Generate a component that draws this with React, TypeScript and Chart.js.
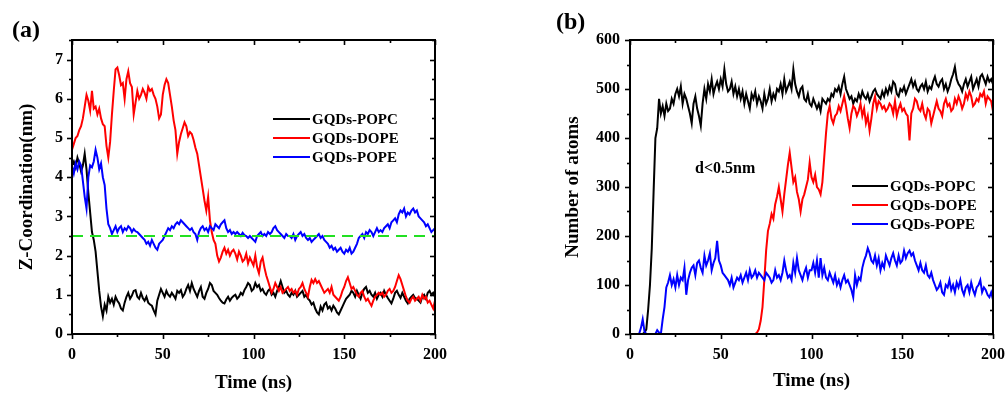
import React, { useEffect, useRef } from 'react';
import { Chart, registerables } from 'chart.js';

Chart.register(...registerables);

// ---------- DATA ----------
// sampling grid (ns), one sample per ns
const TIME_NS = Array.from({ length: 201 }, (_, i) => i);

// Panel (a): Z-Coordination (nm)
const POPC_Z = [
  4.3, 4.4, 4.25, 4.5, 4.35, 4.15, 4.3, 4.6, 4.2, 3.6,
  3.1, 2.6, 2.4, 2.1, 1.6, 1.1, 0.7, 0.45, 0.75, 0.6,
  0.95, 0.8, 0.9, 0.75, 0.95, 0.85, 0.78, 0.65, 0.6, 0.8,
  0.95, 1.05, 0.9, 0.98, 1.1, 1.12, 0.95, 0.9, 1.05, 0.92,
  0.85, 0.95, 0.8, 0.75, 0.72, 0.6, 0.5, 0.85, 1.0, 1.15,
  1.05, 0.95, 1.1, 1.0, 0.95, 1.05, 0.98, 0.9, 1.1, 1.05,
  1.12, 0.95, 1.02, 1.15, 1.25, 1.1, 1.3, 1.15, 1.05, 0.95,
  1.1, 1.2, 0.95, 0.9, 1.05, 1.15, 1.3, 1.25, 1.1, 1.05,
  1.0, 0.92, 0.85, 0.8, 0.78, 0.88, 0.95, 0.85, 0.92, 0.97,
  1.0, 0.9, 0.95, 1.05, 1.0, 1.12, 1.2, 1.3, 1.25, 1.1,
  1.15, 1.3, 1.2, 1.25, 1.1, 1.15, 1.05, 1.0, 1.1, 1.15,
  1.0, 1.05, 0.95, 1.1, 1.2, 1.35, 1.2, 1.05, 1.1, 1.0,
  0.95, 1.05, 1.0, 1.1, 0.95, 1.0, 1.05, 1.1, 0.95, 1.0,
  0.9, 0.85, 0.75, 0.8, 0.65, 0.55, 0.5, 0.7, 0.6, 0.75,
  0.8, 0.65, 0.7, 0.6, 0.72, 0.65, 0.55, 0.5, 0.6, 0.7,
  0.8, 0.9, 0.95, 1.0, 1.1, 1.05, 0.95, 1.1, 1.0, 0.9,
  1.05, 1.15, 1.2, 1.05, 1.1, 1.0, 0.95, 1.05, 0.9, 1.0,
  1.05, 0.95, 1.1, 1.0, 0.92, 0.85, 0.78, 0.9, 1.05, 1.1,
  1.0, 0.92, 1.05, 0.95, 0.85, 0.78, 0.9, 0.95, 1.0, 0.92,
  0.9, 0.85, 0.8, 0.95, 1.0, 0.9, 1.05, 1.1, 1.0, 1.05,
  0.95,
];

const DOPE_Z = [
  4.7, 4.85, 5.0, 5.05, 5.2, 5.3, 5.5, 5.8, 6.1, 5.95,
  5.7, 6.2, 5.75, 5.8, 5.6, 5.75, 5.5, 5.35, 5.3, 4.8,
  4.5, 4.9, 5.6, 6.2, 6.75, 6.8, 6.6, 6.35, 6.4, 6.0,
  6.5, 6.7, 6.4, 6.3, 5.6, 5.9, 6.2, 6.0, 6.1, 6.25,
  6.15, 6.0, 6.3, 6.2, 6.25, 6.1, 6.0, 5.8, 5.5, 5.6,
  6.1, 6.35, 6.5, 6.4, 6.1, 5.8, 5.45, 5.2, 4.6, 4.9,
  5.1, 5.25, 5.4, 5.3, 5.05, 5.15, 5.1, 4.95, 4.75, 4.6,
  4.3, 4.0, 3.7, 3.4, 3.15, 3.5, 2.9, 2.6, 2.4, 2.3,
  2.0, 1.85, 1.95, 2.1, 2.2, 2.05, 2.15, 2.0, 2.1, 2.15,
  2.05, 1.9, 2.1, 2.0, 1.85, 1.9, 2.05, 1.8, 1.95, 1.85,
  1.75, 2.0, 1.7, 1.55, 1.85, 1.95, 1.7, 1.5, 1.35, 1.2,
  1.05, 1.15, 1.3, 1.2, 1.1, 1.2, 1.05, 1.1, 1.15, 1.2,
  1.1, 1.15, 1.05, 1.1, 1.0, 1.15, 1.2, 1.3, 1.15, 1.05,
  0.95, 1.2, 1.38, 1.3, 1.4, 1.3, 1.35, 1.25, 1.15, 1.05,
  1.1, 1.15, 1.05, 1.2, 1.0, 0.95, 0.9, 0.85, 0.95, 1.1,
  1.2, 1.35, 1.45, 1.3, 1.15, 1.2, 1.1, 1.0, 0.95, 1.05,
  1.1, 0.95, 0.85, 0.9, 0.8, 0.72, 0.85, 0.95, 1.0, 1.05,
  1.0, 1.05, 0.95, 1.0, 1.1, 1.15, 1.05, 1.1, 1.2, 1.35,
  1.5, 1.4, 1.25, 1.1, 0.95, 0.85, 0.8, 0.9, 0.95, 0.85,
  0.9, 0.95, 0.85, 1.0, 0.9, 0.95, 0.8, 0.85, 0.75, 0.65,
  0.85,
];

const POPE_Z = [
  4.3, 4.1, 4.35, 4.2, 4.4, 4.3, 3.9, 3.5, 3.2, 4.0,
  4.3, 4.25, 4.4, 4.7, 4.5, 4.2, 4.35, 4.0, 3.8, 3.2,
  2.8, 2.7, 2.55, 2.65, 2.75, 2.6, 2.7, 2.75, 2.6, 2.7,
  2.65, 2.75, 2.7, 2.6, 2.68, 2.62, 2.6, 2.55, 2.5, 2.45,
  2.4, 2.3, 2.35, 2.25, 2.4, 2.3, 2.2, 2.15, 2.3, 2.35,
  2.4, 2.5, 2.6, 2.7, 2.65, 2.75, 2.7, 2.8, 2.85, 2.8,
  2.9, 2.85, 2.8, 2.75, 2.7, 2.65, 2.7, 2.6, 2.55, 2.4,
  2.6, 2.7, 2.75, 2.65, 2.7, 2.6, 2.75, 2.7, 2.65, 2.8,
  2.75, 2.7, 2.8, 2.85, 2.9, 2.7, 2.6, 2.65, 2.55, 2.6,
  2.55, 2.6, 2.55, 2.5, 2.58, 2.52, 2.5, 2.45, 2.5, 2.45,
  2.4, 2.35, 2.5, 2.55, 2.6, 2.5, 2.55, 2.5, 2.6, 2.55,
  2.6, 2.7, 2.75, 2.65, 2.6, 2.55, 2.5, 2.45, 2.55, 2.5,
  2.5, 2.45, 2.55, 2.4, 2.5, 2.55, 2.6, 2.5, 2.55, 2.45,
  2.4, 2.45, 2.35, 2.4, 2.45, 2.5, 2.55, 2.45, 2.5, 2.4,
  2.35, 2.3, 2.2, 2.25, 2.15, 2.2, 2.1, 2.15, 2.2, 2.1,
  2.05, 2.15, 2.1, 2.2, 2.05, 2.1, 2.2, 2.3, 2.45, 2.5,
  2.55, 2.45, 2.6, 2.55, 2.65, 2.6, 2.5, 2.6, 2.7, 2.6,
  2.65, 2.6, 2.7, 2.75, 2.8, 2.7, 2.85, 2.9, 2.95, 2.85,
  3.05, 3.15, 3.1, 3.2, 3.0, 3.1, 3.05, 3.15, 3.2, 3.1,
  3.15, 3.0, 2.95, 2.9, 2.85, 2.75, 2.8, 2.7, 2.6, 2.65,
  2.7,
];

const Z_REFERENCE = 2.5;

// Panel (b): number of atoms within d < 0.5 nm
const POPC_ATOMS = [
  0, 0, 0, 0, 0, 0, 0, 0, 3, 10,
  50, 100, 175, 290, 400, 420, 480, 450, 465, 445,
  470, 455, 460, 480, 470, 490, 500, 485, 505, 470,
  490, 480, 465, 450, 430, 470, 485, 460, 445, 425,
  470, 500, 480, 510, 495, 520, 490, 505, 515, 500,
  520, 505, 540, 510, 495, 500, 515, 490, 505, 485,
  500, 480, 495, 470, 490, 475, 460, 490, 480, 495,
  470, 485, 475, 460, 490, 470, 480, 500, 475, 490,
  480, 500, 495, 510, 490, 520, 495, 505, 515, 500,
  540, 510, 495, 485, 500, 505, 480, 475, 490, 470,
  465, 480, 470, 460, 470, 455, 480, 475, 470, 480,
  475, 490, 485, 500, 495, 505, 490, 510, 525, 500,
  490, 480, 485, 470, 480, 475, 490, 480, 495, 485,
  480, 490, 475, 485, 495, 500, 490, 485, 480, 495,
  485, 500, 490, 505, 495, 515, 510, 490, 485, 500,
  495, 505, 490, 500, 510, 520, 505, 515, 500, 495,
  505, 510, 500, 515, 495, 505, 500, 515, 525, 510,
  505, 515, 520, 500, 510, 495, 505, 520, 530, 545,
  520, 510, 505, 495, 510, 520, 505, 515, 525, 500,
  510, 520, 505, 525, 530, 520, 510, 525, 515, 520,
  510,
];

const DOPE_ATOMS = [
  0, 0, 0, 0, 0, 0, 0, 0, 0, 0,
  0, 0, 0, 0, 0, 0, 0, 0, 0, 0,
  0, 0, 0, 0, 0, 0, 0, 0, 0, 0,
  0, 0, 0, 0, 0, 0, 0, 0, 0, 0,
  0, 0, 0, 0, 0, 0, 0, 0, 0, 0,
  0, 0, 0, 0, 0, 0, 0, 0, 0, 0,
  0, 0, 0, 0, 0, 0, 0, 0, 0, 0,
  3, 10, 27, 55, 110, 170, 210, 225, 245, 235,
  265, 280, 300, 275, 250, 285, 315, 345, 370, 340,
  310, 320, 290, 275, 250, 275, 285, 300, 315, 350,
  320, 310, 325, 300, 295, 285, 310, 360, 410, 450,
  465, 440, 430, 445, 450, 465, 455, 470, 485, 465,
  440, 420, 450, 465, 460, 445, 455, 470, 445, 460,
  430, 445, 415, 440, 470, 485, 460, 475, 470, 460,
  465, 455, 460, 470, 465, 450, 475, 445, 460, 470,
  455, 460, 450, 445, 395, 450, 460, 480, 475, 460,
  455, 470, 450, 440, 460, 455, 430, 445, 460, 475,
  460, 455, 445, 470, 480, 465, 470, 455, 460, 480,
  470, 485, 475, 460, 470, 490, 480, 495, 485, 465,
  470, 480, 475, 490, 485, 495, 470, 485, 480, 475,
  455,
];

const POPE_ATOMS = [
  0, 0, 0, 0, 0, 0, 12, 30, 5, 0,
  0, 0, 0, 0, 0, 8, 3, 0, 30, 55,
  95, 105, 120, 100, 112, 95, 120, 100, 115, 110,
  135, 80, 110, 125, 135, 140, 120, 145, 150, 135,
  125, 160, 140, 150, 165, 130, 145, 155, 190, 150,
  140, 125, 120, 115, 110, 100, 115, 95, 105, 115,
  110, 120, 105, 115, 125, 110, 130, 115, 120, 130,
  115, 125, 120, 115, 110, 125, 120, 115, 105, 110,
  130, 115, 120, 110, 125, 150, 130, 115, 120, 110,
  145, 125, 155, 130, 120, 110, 125, 135, 115, 130,
  130, 145, 125, 150, 115, 155, 120, 135, 115, 110,
  125, 115, 105, 120, 100, 110, 95, 110, 120, 105,
  110, 100, 90, 75, 120, 100, 115, 110, 135, 150,
  160, 175, 165, 150, 145, 160, 140, 155, 130, 145,
  135, 160, 150, 140, 155, 165, 150, 140, 160, 145,
  150, 170, 155, 165, 170, 160, 165, 150, 140, 130,
  145, 130, 125, 140, 120, 115, 125, 110, 100, 90,
  95, 105, 85, 80, 100, 95, 110, 90, 100, 85,
  105, 95, 110, 90, 80, 95, 100, 85, 105, 90,
  80, 95, 100, 110, 85, 95, 90, 80, 75, 85,
  70,
];

const SERIES_NAMES = ['GQDs-POPC', 'GQDs-DOPE', 'GQDs-POPE'];
const SERIES_COLORS = ['#000000', '#ff0000', '#0000ff'];
const REF_COLOR = '#22e022';

const X_MIN = 0;
const X_MAX = 200;
const X_MAJOR = 50;
const X_MINOR = 25;
const Z_MAX = 7.5;
const Z_MAJOR = 1;
const Z_MINOR = 0.5;
const ATOMS_MAX = 600;
const ATOMS_MAJOR = 100;
const ATOMS_MINOR = 50;

const SERIF = '"Liberation Serif", "Times New Roman", serif';

// ---------- helpers ----------
const toPoints = (ys: number[]) => TIME_NS.map((t, i) => ({ x: t, y: ys[i] }));

const framePlugin = (xMajor: number, xMinor: number, yMajor: number, yMinor: number) => ({
  id: 'frame',
  afterDatasetsDraw(chart: any) {
    const { ctx, chartArea: a, scales } = chart;
    const xs = scales.x;
    const ys = scales.y;
    ctx.save();
    ctx.strokeStyle = '#000';
    ctx.lineCap = 'butt';
    const seg = (x1: number, y1: number, x2: number, y2: number) => {
      ctx.beginPath();
      ctx.moveTo(x1, y1);
      ctx.lineTo(x2, y2);
      ctx.stroke();
    };
    ctx.lineWidth = 1.6;
    const nx = Math.round((xs.max - xs.min) / xMinor);
    for (let i = 0; i <= nx; i++) {
      const v = xs.min + i * xMinor;
      const major = Math.abs(v / xMajor - Math.round(v / xMajor)) < 1e-6;
      const len = major ? 5 : 3;
      const px = Math.round(xs.getPixelForValue(v)) + 0.5;
      seg(px, a.bottom, px, a.bottom + len);
      seg(px, a.top, px, a.top + len);
    }
    const ny = Math.round((ys.max - ys.min) / yMinor);
    for (let i = 0; i <= ny; i++) {
      const v = ys.min + i * yMinor;
      const major = Math.abs(v / yMajor - Math.round(v / yMajor)) < 1e-6;
      const len = major ? 5 : 3;
      const py = Math.round(ys.getPixelForValue(v)) + 0.5;
      seg(a.left - len, py, a.left, py);
      seg(a.right - len, py, a.right, py);
    }
    ctx.lineWidth = 2;
    ctx.strokeRect(a.left, a.top, a.right - a.left, a.bottom - a.top);
    ctx.restore();
  },
});

type Label = { text: string; x: number; y: number; size: number; align?: CanvasTextAlign };

const textPlugin = (labels: Label[], legend: { x1: number; x2: number; tx: number; ys: number[] }) => ({
  id: 'texts',
  afterDraw(chart: any) {
    const { ctx } = chart;
    ctx.save();
    ctx.fillStyle = '#000';
    ctx.textBaseline = 'middle';
    for (const l of labels) {
      ctx.font = `bold ${l.size}px ${SERIF}`;
      ctx.textAlign = l.align || 'left';
      ctx.fillText(l.text, l.x, l.y);
    }
    ctx.font = `bold 15px ${SERIF}`;
    ctx.textAlign = 'left';
    SERIES_NAMES.forEach((name, i) => {
      const y = legend.ys[i];
      ctx.strokeStyle = SERIES_COLORS[i];
      ctx.lineWidth = 2;
      ctx.beginPath();
      ctx.moveTo(legend.x1, y);
      ctx.lineTo(legend.x2, y);
      ctx.stroke();
      ctx.fillStyle = '#000';
      ctx.fillText(name, legend.tx, y + 1);
    });
    ctx.restore();
  },
});

const tickFont = { family: SERIF, size: 16, weight: 'bold' as const };
const titleFont = { family: SERIF, size: 19, weight: 'bold' as const };

function makeScales(opts: {
  yMax: number;
  yStep: number;
  yTitle: string;
  yWidth: number;
  yTitlePad: number;
  yTickPad: number;
  xTitlePadBottom: number;
}) {
  return {
    x: {
      type: 'linear' as const,
      min: X_MIN,
      max: X_MAX,
      ticks: { stepSize: X_MAJOR, font: tickFont, color: '#000', padding: 11, maxRotation: 0, includeBounds: false },
      grid: { display: false, drawTicks: false },
      border: { display: false },
      title: { display: true, text: 'Time (ns)', font: titleFont, color: '#000', padding: { top: 0, bottom: opts.xTitlePadBottom } },
      afterFit: (s: any) => {
        s.height = 60;
        s.paddingLeft = 0;
        s.paddingRight = 0;
      },
    },
    y: {
      type: 'linear' as const,
      min: 0,
      max: opts.yMax,
      ticks: { stepSize: opts.yStep, font: tickFont, color: '#000', padding: opts.yTickPad, includeBounds: false },
      grid: { display: false, drawTicks: false },
      border: { display: false },
      title: { display: true, text: opts.yTitle, font: titleFont, color: '#000', padding: { top: opts.yTitlePad, bottom: 0 } },
      afterFit: (s: any) => {
        s.width = opts.yWidth;
        s.paddingTop = 0;
        s.paddingBottom = 0;
      },
    },
  };
}

const lineDs = (label: string, data: number[], color: string, order: number) => ({
  label,
  data: toPoints(data),
  borderColor: color,
  backgroundColor: color,
  borderWidth: 2,
  pointRadius: 0,
  tension: 0,
  fill: false,
  order,
});

// ---------- components ----------
const CANVAS_H = 394;
const A_W = 520;
const B_W = 486;

function PanelA() {
  const ref = useRef<HTMLCanvasElement | null>(null);
  useEffect(() => {
    if (!ref.current) return;
    const chart = new Chart(ref.current, {
      type: 'line',
      data: {
        datasets: [
          {
            label: 'reference',
            data: [{ x: X_MIN, y: Z_REFERENCE }, { x: X_MAX, y: Z_REFERENCE }],
            borderColor: REF_COLOR,
            borderWidth: 2,
            borderDash: [11, 7],
            pointRadius: 0,
            fill: false,
            order: 0,
          } as any,
          lineDs(SERIES_NAMES[0], POPC_Z, SERIES_COLORS[0], 3),
          lineDs(SERIES_NAMES[1], DOPE_Z, SERIES_COLORS[1], 2),
          lineDs(SERIES_NAMES[2], POPE_Z, SERIES_COLORS[2], 1),
        ],
      },
      options: {
        responsive: false,
        animation: false,
        layout: { padding: { top: 40, right: A_W - 435, left: 0, bottom: 0 } },
        plugins: { legend: { display: false }, tooltip: { enabled: false } },
        scales: makeScales({ yMax: Z_MAX, yStep: Z_MAJOR, yTitle: 'Z-Coordination(nm)', yWidth: 72, yTitlePad: 16, yTickPad: 9, xTitlePadBottom: 0 }) as any,
      },
      plugins: [
        framePlugin(X_MAJOR, X_MINOR, Z_MAJOR, Z_MINOR),
        textPlugin([{ text: '(a)', x: 12, y: 31, size: 24 }], { x1: 273, x2: 310, tx: 312, ys: [119, 138, 157] }),
      ],
    });
    return () => chart.destroy();
  }, []);
  return <canvas ref={ref} width={A_W} height={CANVAS_H} style={{ position: 'absolute', left: 0, top: 0 }} />;
}

function PanelB() {
  const ref = useRef<HTMLCanvasElement | null>(null);
  useEffect(() => {
    if (!ref.current) return;
    const chart = new Chart(ref.current, {
      type: 'line',
      data: {
        datasets: [
          lineDs(SERIES_NAMES[0], POPC_ATOMS, SERIES_COLORS[0], 3),
          lineDs(SERIES_NAMES[1], DOPE_ATOMS, SERIES_COLORS[1], 2),
          lineDs(SERIES_NAMES[2], POPE_ATOMS, SERIES_COLORS[2], 1),
        ],
      },
      options: {
        responsive: false,
        animation: false,
        layout: { padding: { top: 40, right: 13, left: 0, bottom: 0 } },
        plugins: { legend: { display: false }, tooltip: { enabled: false } },
        scales: makeScales({ yMax: ATOMS_MAX, yStep: ATOMS_MAJOR, yTitle: 'Number of atoms', yWidth: 110, yTitlePad: 42, yTickPad: 10, xTitlePadBottom: 2 }) as any,
      },
      plugins: [
        framePlugin(X_MAJOR, X_MINOR, ATOMS_MAJOR, ATOMS_MINOR),
        textPlugin(
          [
            { text: '(b)', x: 36, y: 23, size: 24 },
            { text: 'd<0.5nm', x: 175, y: 169, size: 16 },
          ],
          { x1: 332, x2: 368, tx: 370, ys: [186, 205, 224] }
        ),
      ],
    });
    return () => chart.destroy();
  }, []);
  return <canvas ref={ref} width={B_W} height={CANVAS_H} style={{ position: 'absolute', left: A_W, top: 0 }} />;
}

export default function App() {
  return (
    <div style={{ position: 'absolute', left: 0, top: 0, width: 1006, height: 394, background: '#fff', overflow: 'hidden' }}>
      <PanelA />
      <PanelB />
    </div>
  );
}
